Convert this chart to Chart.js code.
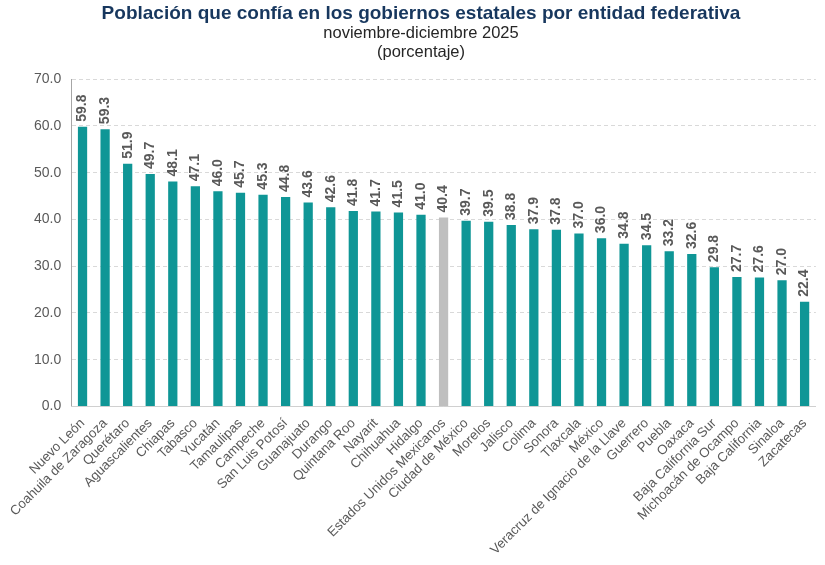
<!DOCTYPE html>
<html>
<head>
<meta charset="utf-8">
<script src="https://cdn.jsdelivr.net/npm/chart.js@4/dist/chart.umd.min.js"></script>
<style>
html,body{margin:0;padding:0;background:#fff;}
#wrap{width:825px;height:565px;position:relative;}
</style>
</head>
<body>
<div id="wrap"><canvas id="c" width="825" height="565"></canvas></div>
<script>
const categories = ["Nuevo León","Coahuila de Zaragoza","Querétaro","Aguascalientes","Chiapas","Tabasco","Yucatán","Tamaulipas","Campeche","San Luis Potosí","Guanajuato","Durango","Quintana Roo","Nayarit","Chihuahua","Hidalgo","Estados Unidos Mexicanos","Ciudad de México","Morelos","Jalisco","Colima","Sonora","Tlaxcala","México","Veracruz de Ignacio de la Llave","Guerrero","Puebla","Oaxaca","Baja California Sur","Michoacán de Ocampo","Baja California","Sinaloa","Zacatecas"];
const values = [59.8,59.3,51.9,49.7,48.1,47.1,46.0,45.7,45.3,44.8,43.6,42.6,41.8,41.7,41.5,41.0,40.4,39.7,39.5,38.8,37.9,37.8,37.0,36.0,34.8,34.5,33.2,32.6,29.8,27.7,27.6,27.0,22.4];
const nationalLabel = "Estados Unidos Mexicanos";
const yTicks = [0,10,20,30,40,50,60,70];
const titleText = "Población que confía en los gobiernos estatales por entidad federativa";
const subtitleLines = ["noviembre-diciembre 2025","(porcentaje)"];

const TEAL = '#0f9696';
const GRAY = '#bfbfbf';
const colors = categories.map(c => c === nationalLabel ? GRAY : TEAL);

const valueLabels = {
  id: 'valueLabels',
  afterDatasetsDraw(chart) {
    const ctx = chart.ctx;
    const meta = chart.getDatasetMeta(0);
    ctx.save();
    ctx.font = 'bold 14px "Liberation Sans", Arial, sans-serif';
    ctx.fillStyle = '#595959';
    ctx.textAlign = 'left';
    ctx.textBaseline = 'middle';
    meta.data.forEach((bar, i) => {
      ctx.save();
      ctx.translate(bar.x, bar.y - 5);
      ctx.rotate(-Math.PI / 2);
      ctx.fillText(values[i].toFixed(1), 0, 0);
      ctx.restore();
    });
    ctx.restore();
  }
};

new Chart(document.getElementById('c'), {
  type: 'bar',
  data: {
    labels: categories,
    datasets: [{
      data: values,
      backgroundColor: colors,
      borderWidth: 0,
      barPercentage: 0.41,
      categoryPercentage: 1.0
    }]
  },
  options: {
    responsive: false,
    animation: false,
    layout: { padding: { left: 24, right: 7, top: 1, bottom: -2 } },
    plugins: {
      legend: { display: false },
      tooltip: { enabled: false },
      title: {
        display: true,
        text: titleText,
        color: '#17375e',
        font: { family: '"Liberation Sans Narrow", "Liberation Sans", Arial, sans-serif', size: 19, weight: 'bold' },
        padding: { top: 1, bottom: 0 }
      },
      subtitle: {
        display: true,
        text: subtitleLines,
        color: '#262626',
        font: { family: '"Liberation Sans Narrow", "Liberation Sans", Arial, sans-serif', size: 16.5, lineHeight: 1.1 },
        padding: { top: 0, bottom: 18 }
      }
    },
    scales: {
      y: {
        min: 0, max: 70,
        afterBuildTicks(scale) { scale.ticks = yTicks.map(v => ({ value: v })); },
        ticks: {
          color: '#595959',
          font: { family: '"Liberation Sans", Arial, sans-serif', size: 14 },
          padding: 10,
          callback: v => Number(v).toFixed(1)
        },
        grid: { color: '#d9d9d9', drawTicks: false, lineWidth: 1 },
        border: { display: true, color: '#a6a6a6', width: 1, dash: [4, 3] }
      },
      x: {
        ticks: {
          color: '#595959',
          font: { family: '"Liberation Sans", Arial, sans-serif', size: 13.3 },
          autoSkip: false,
          maxRotation: 45,
          minRotation: 45,
          padding: 9
        },
        grid: { display: false, drawTicks: false },
        border: { display: true, color: '#d0d0d0', width: 1 }
      }
    }
  },
  plugins: [valueLabels]
});
</script>
</body>
</html>
